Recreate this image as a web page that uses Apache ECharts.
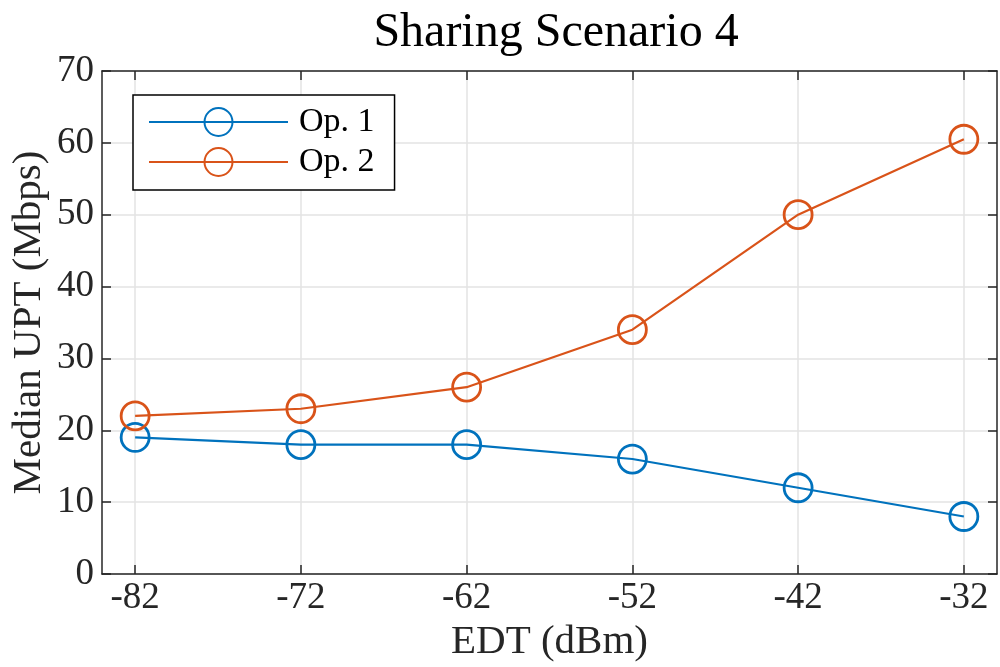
<!DOCTYPE html>
<html><head><meta charset="utf-8">
<script src="https://cdn.jsdelivr.net/npm/echarts@6/dist/echarts.min.js"></script>
<style>html,body{margin:0;padding:0;background:#fff}#c{width:1000px;height:667px}</style>
</head><body><div id="c"></div>
<script>
const titleText = 'Sharing Scenario 4';
const xName = 'EDT (dBm)';
const yName = 'Median UPT (Mbps)';
const edt = [-82, -72, -62, -52, -42, -32];
const op1 = [19, 18, 18, 16, 12, 8];
const op2 = [22, 23, 26, 34, 50, 60.5];
const xTicks = [-82, -72, -62, -52, -42, -32];
const yTicks = [0, 10, 20, 30, 40, 50, 60, 70];
const seriesNames = ['Op. 1', 'Op. 2'];
const colors = ['#0072BD', '#D95319'];

const FONT = 'Liberation Serif';
const TXT = '#262626';
const chart = echarts.init(document.getElementById('c'), null, {renderer: 'canvas'});
function mkSeries(name, vals, color) {
  return {
    name: name, type: 'line', xAxisIndex: 0, yAxisIndex: 0,
    data: edt.map((x, i) => [x, vals[i]]),
    symbol: 'circle', symbolSize: 28,
    lineStyle: {color: color, width: 2.2},
    itemStyle: {color: 'rgba(255,255,255,0)', borderColor: color, borderWidth: 2.8},
    emphasis: {disabled: true}, animation: false
  };
}
const xBase = {
  type: 'value', min: -84, max: -30,
  axisLine: {show: true, onZero: false, lineStyle: {color: TXT, width: 1.5}},
  axisTick: {show: true, inside: true, length: 9, customValues: xTicks, lineStyle: {color: TXT, width: 1.5}},
  splitLine: {show: false}
};
const yBase = {
  type: 'value', min: 0, max: 70, interval: 10,
  axisLine: {show: true, onZero: false, lineStyle: {color: TXT, width: 1.5}},
  axisTick: {show: true, inside: true, length: 9, lineStyle: {color: TXT, width: 1.5}},
  splitLine: {show: false}
};
chart.setOption({
  animation: false,
  backgroundColor: '#fff',
  title: {text: titleText, left: 551, textAlign: 'center', top: 4,
    textStyle: {fontFamily: FONT, fontSize: 48, fontWeight: 'normal', color: '#000'}},
  grid: {left: 102, right: 3, top: 71, bottom: 93, containLabel: false, outerBoundsMode: 'none'},
  legend: {
    orient: 'vertical', left: 133, top: 95,
    itemWidth: 139, itemHeight: 35, itemGap: 6,
    padding: [10, 20, 11, 15],
    borderColor: '#000', borderWidth: 1.5, backgroundColor: '#fff',
    textStyle: {fontFamily: FONT, fontSize: 34, color: '#000', padding: [0, 0, 0, 6]},
    data: seriesNames
  },
  xAxis: [
    Object.assign({}, xBase, {position: 'bottom',
      axisLabel: {show: true, customValues: xTicks, margin: 6, fontFamily: FONT, fontSize: 37, color: TXT},
      splitLine: {show: true, lineStyle: {color: '#e3e3e3', width: 1.5}},
      name: xName, nameLocation: 'middle', nameGap: 48,
      nameTextStyle: {fontFamily: FONT, fontSize: 41, color: TXT}}),
    Object.assign({}, xBase, {position: 'top', axisLabel: {show: false}})
  ],
  yAxis: [
    Object.assign({}, yBase, {position: 'left',
      axisLabel: {show: true, margin: 8, fontFamily: FONT, fontSize: 37, color: TXT,
        formatter: v => yTicks.includes(v) ? String(v) : ''},
      splitLine: {show: true, lineStyle: {color: '#e3e3e3', width: 1.5}},
      name: yName, nameLocation: 'middle', nameGap: 52, nameMoveOverlap: false,
      nameTextStyle: {fontFamily: FONT, fontSize: 41, color: TXT}}),
    Object.assign({}, yBase, {position: 'right', axisLabel: {show: false}})
  ],
  series: [mkSeries(seriesNames[0], op1, colors[0]), mkSeries(seriesNames[1], op2, colors[1])]
});
</script></body></html>
